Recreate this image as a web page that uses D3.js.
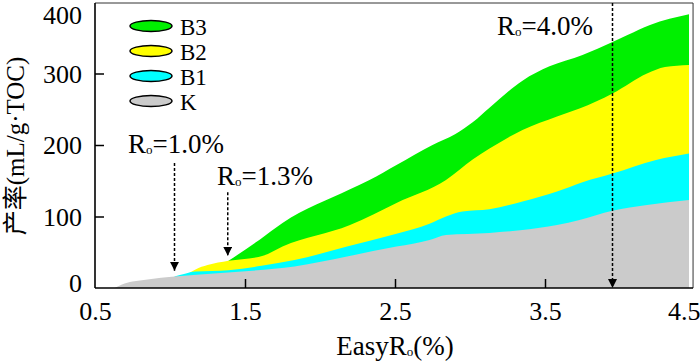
<!DOCTYPE html>
<html><head><meta charset="utf-8">
<script src="https://cdn.jsdelivr.net/npm/d3@7"></script>
<style>
html,body{margin:0;padding:0;background:#fff;}
svg{display:block;}
text{font-family:"Liberation Serif","Times New Roman","Noto Sans CJK SC",serif;fill:#000;}
</style></head>
<body>
<svg id="chart" width="700" height="364"></svg>
<script>
// ---- data (cumulative tops of each stacked layer) ----
const kX  = [0.63, 0.68, 0.75, 0.85, 1.03, 1.2, 1.48, 1.83, 2.18, 2.51, 2.62, 2.73, 2.84, 3.13, 3.35, 3.58, 3.73, 3.95, 4.18, 4.46];
const kY  = [0, 5, 9, 12, 16, 19, 23, 30, 44, 58, 62, 67, 74, 77, 81, 88, 95, 108, 116, 123];
const b1X = [1.03, 1.1, 1.17, 1.39, 1.61, 1.83, 2.18, 2.51, 2.62, 2.73, 2.84, 2.95, 3.13, 3.35, 3.58, 3.75, 3.95, 4.24, 4.46];
const b1Y = [16, 20, 23, 25, 31, 39, 58, 76, 82, 90, 100, 107, 110, 121, 135, 148, 160, 179, 188];
const b2X = [1.12, 1.17, 1.25, 1.39, 1.62, 1.75, 2.2, 2.51, 2.84, 3.02, 3.13, 3.35, 3.58, 3.73, 3.95, 4.18, 4.3, 4.46];
const b2Y = [20, 26, 32, 38, 45, 58, 88, 119, 151, 180, 195, 221, 240, 251, 272, 300, 309, 312];
const b3X = [1.39, 1.6, 1.75, 2.2, 2.33, 2.51, 2.75, 2.9, 3.02, 3.13, 3.35, 3.53, 3.75, 3.95, 4.05, 4.2, 4.46];
const b3Y = [38, 68, 91, 138, 151, 172, 200, 215, 232, 252, 290, 310, 326, 344, 354, 368, 383];

const seriesNames  = ["B3", "B2", "B1", "K"];
const seriesColors = ["#00f000", "#ffff00", "#00ffff", "#cbcbcb"];

const xTicks = [0.5, 1.5, 2.5, 3.5, 4.5];
const yTicks = [0, 100, 200, 300, 400];

const arrowX    = [1.03, 1.385, 3.95];
const arrowTop  = [175, 134, 400];
const arrowTip  = [24, 45, 0];
const arrowLbl  = ["1.0%", "1.3%", "4.0%"];

// ---- layout ----
const svg = d3.select("#chart");
const L = 95, R = 695, T = 2, B = 288;
const x = d3.scaleLinear().domain([0.5, 4.5]).range([L, R]);
const y = d3.scaleLinear().domain([0, 400]).range([B, T]);

// areas (painter's order: top layer first)
const layers = [
  {xs: b3X, ys: b3Y, c: seriesColors[0]},
  {xs: b2X, ys: b2Y, c: seriesColors[1]},
  {xs: b1X, ys: b1Y, c: seriesColors[2]},
  {xs: kX,  ys: kY,  c: seriesColors[3]}
];
const area = d3.area().x(d => x(d[0])).y0(y(0)).y1(d => y(d[1])).curve(d3.curveMonotoneX);
layers.forEach(l => {
  const pts = l.xs.map((v, i) => [v, l.ys[i]]);
  svg.append("path").attr("d", area(pts)).attr("fill", l.c).attr("stroke", "none");
});

// frame: top & right thin
svg.append("line").attr("x1", L).attr("x2", x(4.487)).attr("y1", 3).attr("y2", 3)
  .attr("stroke", "#333").attr("stroke-width", 1);
svg.append("line").attr("x1", x(4.487)).attr("x2", x(4.487)).attr("y1", 3).attr("y2", B)
  .attr("stroke", "#333").attr("stroke-width", 1);

// axes
const yAxis = d3.axisLeft(y).tickValues(yTicks).tickSizeInner(-9).tickSizeOuter(0).tickPadding(22);
const gy = svg.append("g").attr("transform", `translate(${L},0)`).call(yAxis);
const xAxis = d3.axisBottom(x).tickValues(xTicks).tickSizeInner(-9).tickSizeOuter(0).tickPadding(22);
const gx = svg.append("g").attr("transform", `translate(0,${B})`).call(xAxis);
[gx, gy].forEach(g => {
  g.select(".domain").attr("stroke", "#000").attr("stroke-width", 1.6);
  g.selectAll(".tick line").attr("stroke", "#000").attr("stroke-width", 1.5);
  g.selectAll(".tick text").style("font-family", '"Liberation Serif",serif').style("font-size", "26px").attr("fill", "#000");
});
gy.select(".domain").attr("d", `M0,${y(0)}V${3}`);
gx.select(".domain").attr("d", `M${L},0H${x(4.487)}`);
gy.selectAll(".tick").filter(d => d === 0 || d === 400).select("line").remove();
gx.selectAll(".tick").filter(d => d === 0.5 || d === 4.5).select("line").remove();
gy.selectAll(".tick text").attr("x", -13).attr("dy", d => d === 400 ? "0.82em" : d === 0 ? "0.12em" : "0.33em");
gx.selectAll(".tick text").attr("y", 14).attr("dy", "0.71em");
gx.selectAll(".tick").filter(d => d === 4.5).select("text").attr("text-anchor", "end").attr("x", 5);

// legend
const lg = svg.append("g");
seriesNames.forEach((n, i) => {
  const cy = 26 + i * 25;
  lg.append("ellipse").attr("cx", 151).attr("cy", cy).attr("rx", 21).attr("ry", 5.5)
    .attr("fill", seriesColors[i]).attr("stroke", "#000").attr("stroke-width", 1.5);
  lg.append("text").attr("x", 180).attr("y", cy + 9).style("font-size", "23px").text(n);
});

// arrows
const defs = svg.append("defs");
defs.append("marker").attr("id", "ah").attr("viewBox", "0 0 10 10").attr("refX", 10).attr("refY", 5)
  .attr("markerWidth", 9).attr("markerHeight", 9).attr("markerUnits", "userSpaceOnUse").attr("orient", "auto")
  .append("path").attr("d", "M0,0L10,5L0,10Z").attr("fill", "#000");
arrowX.forEach((ax, i) => {
  svg.append("line").attr("x1", x(ax)).attr("x2", x(ax))
    .attr("y1", i === 2 ? 3 : y(arrowTop[i])).attr("y2", y(arrowTip[i]))
    .attr("stroke", "#000").attr("stroke-width", 1.5).attr("stroke-dasharray", "3,2")
    .attr("marker-end", "url(#ah)");
});

// annotation labels
const annPos = [[128, 153], [217, 185], [497, 35]];
annPos.forEach((p, i) => {
  const t = svg.append("text").attr("x", p[0]).attr("y", p[1]).style("font-size", "27px");
  t.append("tspan").text("R");
  t.append("tspan").style("font-size", "13px").attr("dy", 1).text("o");
  t.append("tspan").attr("dy", -1).text("=" + arrowLbl[i]);
});

// axis titles
const xt = svg.append("text").attr("x", 395).attr("y", 355).attr("text-anchor", "middle").style("font-size", "27px");
xt.append("tspan").text("EasyR");
xt.append("tspan").style("font-size", "13px").attr("dy", 1).text("o");
xt.append("tspan").attr("dy", -1).text("(%)");

svg.append("text").attr("transform", "translate(24,146) rotate(-90)").attr("text-anchor", "middle")
  .style("font-size", "25px").text("产率(mL/g·TOC)");
</script>
</body></html>
